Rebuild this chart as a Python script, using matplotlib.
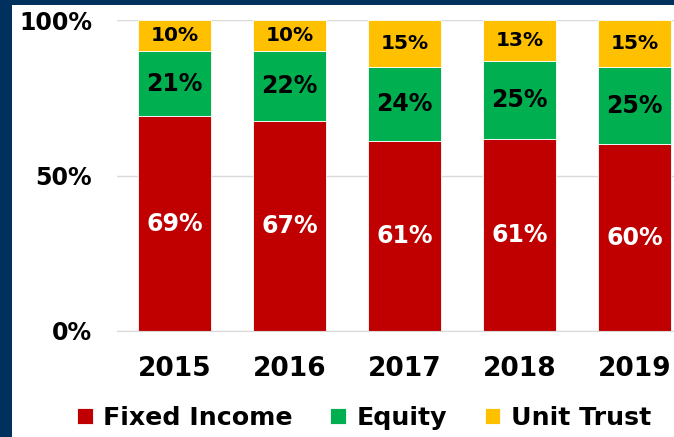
import numpy as np
import matplotlib
matplotlib.use("Agg")
import matplotlib.pyplot as plt
from matplotlib.patches import Rectangle

years = ["2015", "2016", "2017", "2018", "2019"]
fixed_income = [69, 67, 61, 61, 60]
equity = [21, 22, 24, 25, 25]
unit_trust = [10, 10, 15, 13, 15]

series = [
    ("Fixed Income", fixed_income, "#C00000", "white", 17),
    ("Equity", equity, "#00B050", "black", 17),
    ("Unit Trust", unit_trust, "#FFC000", "black", 14.5),
]

navy = "#00315E"
plt.rcParams["font.family"] = ["DejaVu Sans"]
plt.rcParams["font.weight"] = "bold"

fig = plt.figure(figsize=(6.74, 4.37), dpi=100, facecolor=navy)
# white panel inside the navy frame
fig.patches.append(Rectangle((12 / 674, 0), 1, 432 / 437, transform=fig.transFigure,
                             facecolor="white", edgecolor="none", zorder=-1))

ax = fig.add_axes([117 / 674, 106 / 437, 575 / 674, 311 / 437])
ax.set_facecolor("none")
ax.set_zorder(2)

x = np.arange(len(years))
totals = np.array(fixed_income) + np.array(equity) + np.array(unit_trust)
bottom = np.zeros(len(years))
for name, vals, color, tcolor, fs in series:
    share = np.array(vals) / totals * 100
    ax.bar(x, share, 0.63, bottom=bottom, color=color, edgecolor="white",
           linewidth=0.6, label=name, zorder=3)
    for xi, b, h, v in zip(x, bottom, share, vals):
        ax.text(xi, b + h / 2, f"{v}%", ha="center", va="center", color=tcolor,
                fontsize=fs, fontweight="bold", zorder=4)
    bottom += share

ax.set_xlim(-0.5, len(years) - 0.5)
ax.set_ylim(0, 100)
ax.set_yticks([0, 50, 100])
ax.set_yticklabels(["0%", "50%", "100%"])
ax.set_xticks(x)
ax.set_xticklabels(years)
ax.tick_params(axis="y", length=0, pad=18, labelsize=17)
ax.tick_params(axis="x", length=0, pad=18, labelsize=19)
ax.grid(axis="y", color="#D9D9D9", linewidth=1, zorder=0)
for s in ["top", "right", "left"]:
    ax.spines[s].set_visible(False)
ax.spines["bottom"].set_color("#D9D9D9")
ax.spines["bottom"].set_zorder(5)

fig.legend(loc="center", bbox_to_anchor=(0.54, 0.044), ncol=3, frameon=False,
           prop={"size": 18.2, "weight": "bold"}, handlelength=0.62, handleheight=0.62,
           handletextpad=0.4, columnspacing=1.5)

fig.savefig("out.png", dpi=100, facecolor=navy)
